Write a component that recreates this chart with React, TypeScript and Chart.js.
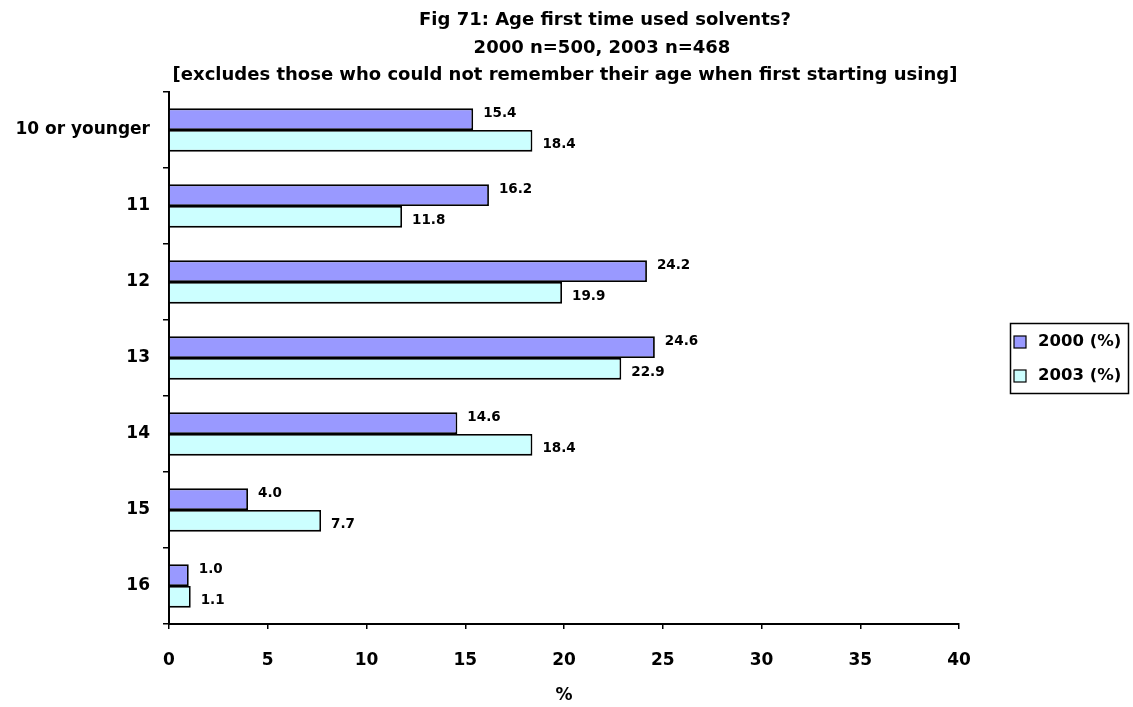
import React, { useEffect, useRef } from "react";
import { Chart, registerables } from "chart.js";

Chart.register(...registerables);

const TITLE_LINES = [
  "Fig 71: Age first time used solvents?",
  "2000 n=500, 2003 n=468",
  "[excludes those who could not remember their age when first starting using]",
];
const CATEGORIES = ["10 or younger", "11", "12", "13", "14", "15", "16"];
const SERIES_2000 = [15.4, 16.2, 24.2, 24.6, 14.6, 4.0, 1.0];
const SERIES_2003 = [18.4, 11.8, 19.9, 22.9, 18.4, 7.7, 1.1];
const SERIES_LABELS = ["2000 (%)", "2003 (%)"];
const X_TITLE = "%";

const FONT = "'DejaVu Sans', 'Liberation Sans', Arial, sans-serif";
const COLORS = ["#9999FF", "#CCFFFF"];

const titlePlugin = {
  id: "customTitle",
  afterDraw(chart: any) {
    const ctx = chart.ctx;
    const xs = [605, 602, 565];
    const ys = [20, 48, 75];
    ctx.save();
    ctx.fillStyle = "#000";
    ctx.font = `bold 18px ${FONT}`;
    ctx.textAlign = "center";
    ctx.textBaseline = "middle";
    TITLE_LINES.forEach((t, i) => ctx.fillText(t, xs[i], ys[i]));
    ctx.restore();
  },
};

const labelPlugin = {
  id: "barLabels",
  afterDatasetsDraw(chart: any) {
    const ctx = chart.ctx;
    ctx.save();
    ctx.fillStyle = "#000";
    ctx.font = `bold 13.5px ${FONT}`;
    ctx.textAlign = "left";
    ctx.textBaseline = "middle";
    chart.data.datasets.forEach((ds: any, di: number) => {
      const meta = chart.getDatasetMeta(di);
      meta.data.forEach((el: any, i: number) => {
        const v = ds.data[i] as number;
        ctx.fillText(v.toFixed(1), el.x + 10, el.y + (di === 0 ? -6 : 4));
      });
    });
    ctx.restore();
  },
};

const legendPlugin = {
  id: "boxLegend",
  afterDraw(chart: any) {
    const ctx = chart.ctx;
    ctx.save();
    ctx.strokeStyle = "#000";
    ctx.lineWidth = 1.5;
    ctx.strokeRect(1010.5, 323.5, 118, 70);
    ctx.font = `bold 16.5px ${FONT}`;
    ctx.textAlign = "left";
    ctx.textBaseline = "middle";
    const ys = [342, 376];
    SERIES_LABELS.forEach((lab, i) => {
      ctx.fillStyle = COLORS[i];
      ctx.fillRect(1014, ys[i] - 6, 12, 12);
      ctx.lineWidth = 1.2;
      ctx.strokeStyle = "#000";
      ctx.strokeRect(1014, ys[i] - 6, 12, 12);
      ctx.fillStyle = "#000";
      ctx.fillText(lab, 1038, ys[i]);
    });
    ctx.restore();
  },
};

export default function App() {
  const ref = useRef<HTMLCanvasElement | null>(null);
  useEffect(() => {
    if (!ref.current) return;
    const chart = new Chart(ref.current, {
      type: "bar",
      data: {
        labels: CATEGORIES,
        datasets: [
          {
            label: SERIES_LABELS[0],
            data: SERIES_2000,
            backgroundColor: COLORS[0],
            borderColor: "#000",
            borderWidth: 1.8,
            categoryPercentage: 0.57,
            barPercentage: 1,
          },
          {
            label: SERIES_LABELS[1],
            data: SERIES_2003,
            backgroundColor: COLORS[1],
            borderColor: "#000",
            borderWidth: 1.8,
            categoryPercentage: 0.57,
            barPercentage: 1,
          },
        ],
      },
      options: {
        indexAxis: "y",
        responsive: false,
        animation: false,
        layout: { padding: { top: 92, right: 174, bottom: 0, left: 0 } },
        plugins: {
          legend: { display: false },
          title: { display: false },
          tooltip: { enabled: false },
        },
        scales: {
          y: {
            type: "category",
            afterFit: (s: any) => {
              s.width = 169;
            },
            grid: {
              offset: true,
              drawOnChartArea: false,
              drawTicks: true,
              tickLength: 6,
              color: "#000",
              lineWidth: 1.5,
            },
            border: { display: true, color: "#000", width: 2 },
            ticks: {
              color: "#000",
              padding: 13,
              font: { family: FONT, size: 17, weight: "bold" },
            },
          },
          x: {
            type: "linear",
            min: 0,
            max: 40,
            afterFit: (s: any) => {
              s.height = 83;
            },
            grid: {
              drawOnChartArea: false,
              drawTicks: true,
              tickLength: 5,
              color: "#000",
              lineWidth: 1.5,
            },
            border: { display: true, color: "#000", width: 2 },
            ticks: {
              stepSize: 5,
              color: "#000",
              padding: 21,
              font: { family: FONT, size: 17, weight: "bold" },
            },
            title: {
              display: true,
              text: X_TITLE,
              color: "#000",
              padding: { top: 0, bottom: 1 },
              font: { family: FONT, size: 17, weight: "bold" },
            },
          },
        },
      },
      plugins: [titlePlugin, labelPlugin, legendPlugin],
    });
    return () => chart.destroy();
  }, []);
  return (
    <div style={{ position: "absolute", left: 0, top: 0, width: 1133, height: 707, background: "#fff" }}>
      <canvas ref={ref} width={1133} height={707} />
    </div>
  );
}
